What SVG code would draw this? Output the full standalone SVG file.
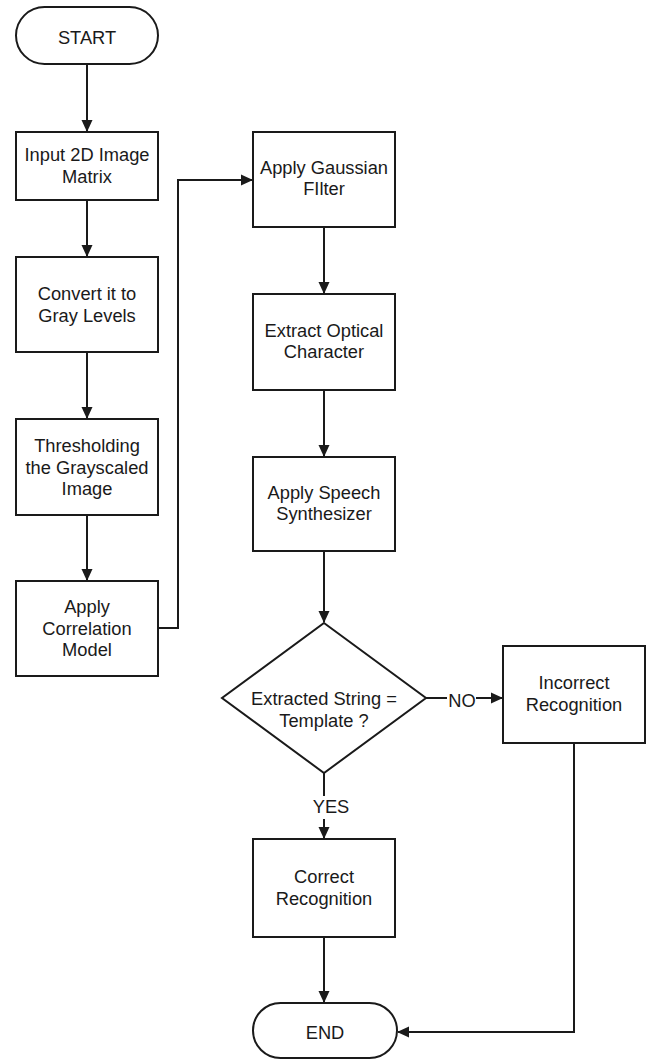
<svg xmlns="http://www.w3.org/2000/svg" width="646" height="1059" viewBox="0 0 646 1059">
<style>
.shape{fill:#fff;stroke:#1a1a1a;stroke-width:2}
.lbl{font-family:"Liberation Sans",Arial,sans-serif;font-size:18.3px;fill:#1a1a1a;text-anchor:middle}
.conn{fill:none;stroke:#1a1a1a;stroke-width:2}
</style>
<defs>
<marker id="arr" markerUnits="userSpaceOnUse" markerWidth="12" markerHeight="12" viewBox="0 0 12 12" refX="11" refY="6" orient="auto">
<path d="M0,0.5 L12,6 L0,11.5 Z" fill="#1a1a1a"/>
</marker>
</defs>
<rect width="646" height="1059" fill="#fff"/>
<g id="connectors">
<path class="conn" d="M87,64 V131" marker-end="url(#arr)"/>
<path class="conn" d="M87,200 V256" marker-end="url(#arr)"/>
<path class="conn" d="M87,352 V418" marker-end="url(#arr)"/>
<path class="conn" d="M87,515 V580" marker-end="url(#arr)"/>
<path class="conn" d="M158,628 H178 V180 H252" marker-end="url(#arr)"/>
<path class="conn" d="M324,227 V293" marker-end="url(#arr)"/>
<path class="conn" d="M324,390 V456" marker-end="url(#arr)"/>
<path class="conn" d="M324,551 V622" marker-end="url(#arr)"/>
<path class="conn" d="M324,773 V796"/>
<path class="conn" d="M324,819 V838" marker-end="url(#arr)"/>
<path class="conn" d="M426,698 H447"/>
<path class="conn" d="M476,698 H502" marker-end="url(#arr)"/>
<path class="conn" d="M324,937 V1002" marker-end="url(#arr)"/>
<path class="conn" d="M574,743 V1032 H398" marker-end="url(#arr)"/>
<text class="lbl" x="331" y="813">YES</text>
<text class="lbl" x="462" y="707">NO</text>
</g>
<g id="start">
<rect class="shape" x="16" y="7" width="142" height="57" rx="28.5"/>
<text class="lbl" x="87" y="43.5">START</text>
</g>
<g id="input">
<rect class="shape" x="16" y="132" width="142" height="68"/>
<text class="lbl" x="87" y="161">Input 2D Image</text>
<text class="lbl" x="87" y="183">Matrix</text>
</g>
<g id="convert">
<rect class="shape" x="16" y="257" width="142" height="95"/>
<text class="lbl" x="87" y="300">Convert it to</text>
<text class="lbl" x="87" y="322">Gray Levels</text>
</g>
<g id="threshold">
<rect class="shape" x="16" y="419" width="142" height="96"/>
<text class="lbl" x="87" y="452">Thresholding</text>
<text class="lbl" x="87" y="474">the Grayscaled</text>
<text class="lbl" x="87" y="495">Image</text>
</g>
<g id="correlation">
<rect class="shape" x="16" y="581" width="142" height="95"/>
<text class="lbl" x="87" y="613">Apply</text>
<text class="lbl" x="87" y="635">Correlation</text>
<text class="lbl" x="87" y="656">Model</text>
</g>
<g id="gaussian">
<rect class="shape" x="253" y="132" width="142" height="95"/>
<text class="lbl" x="324" y="174">Apply Gaussian</text>
<text class="lbl" x="324" y="195">FIlter</text>
</g>
<g id="extract">
<rect class="shape" x="253" y="294" width="142" height="96"/>
<text class="lbl" x="324" y="337">Extract Optical</text>
<text class="lbl" x="324" y="358">Character</text>
</g>
<g id="speech">
<rect class="shape" x="253" y="457" width="142" height="94"/>
<text class="lbl" x="324" y="499">Apply Speech</text>
<text class="lbl" x="324" y="520">Synthesizer</text>
</g>
<g id="decision">
<polygon class="shape" points="324,623 426,698 324,773 222,698"/>
<text class="lbl" x="324" y="705">Extracted String =</text>
<text class="lbl" x="324" y="727">Template ?</text>
</g>
<g id="incorrect">
<rect class="shape" x="503" y="646" width="142" height="97"/>
<text class="lbl" x="574" y="689">Incorrect</text>
<text class="lbl" x="574" y="711">Recognition</text>
</g>
<g id="correct">
<rect class="shape" x="253" y="839" width="142" height="98"/>
<text class="lbl" x="324" y="883">Correct</text>
<text class="lbl" x="324" y="905">Recognition</text>
</g>
<g id="end">
<rect class="shape" x="253" y="1003" width="144" height="55" rx="27.5"/>
<text class="lbl" x="325" y="1039">END</text>
</g>
</svg>
